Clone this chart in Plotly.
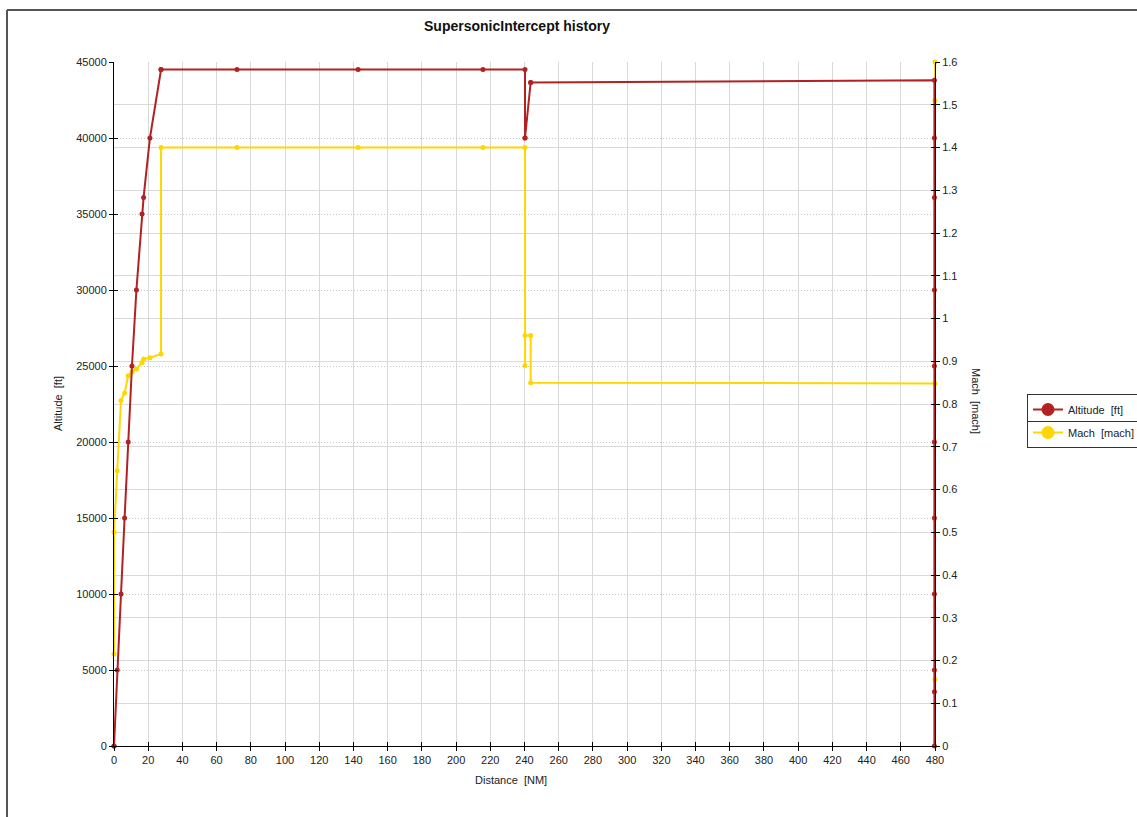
import plotly.graph_objects as go

# Mission history: ground distance [NM], altitude [ft] and Mach number
alt_dist = [0, 0, 1.9, 4.1, 6.2, 8.3, 10.5, 13.1, 16.4, 17.3, 21.0, 27.5, 27.5,
            71.9, 142.7, 215.7, 240.3, 240.3, 240.3, 243.6, 243.6, 480,
            480, 480, 480, 480, 480, 480, 480, 480, 480, 480]
altitude = [0, 0, 5000, 10000, 15000, 20000, 25000, 30000, 35000, 36089, 40000, 44500, 44500,
            44500, 44500, 44500, 44500, 40000, 40000, 43650, 43650, 43800,
            40000, 36089, 30000, 25000, 20000, 15000, 10000, 5000, 3572, 0]

mach_dist = [0, 0, 1.9, 4.1, 6.2, 8.3, 10.5, 13.1, 16.4, 17.3, 21.0, 27.5, 27.5,
             71.9, 142.7, 215.7, 240.3, 240.3, 240.3, 243.6, 243.6, 480,
             480, 480, 480]
mach = [0.215, 0.50, 0.644, 0.808, 0.826, 0.866, 0.875, 0.882, 0.897, 0.905, 0.908, 0.917, 1.40,
        1.40, 1.40, 1.40, 1.40, 0.89, 0.96, 0.96, 0.85, 0.848,
        1.60, 1.51, 0.156]

x_ticks = list(range(0, 481, 20))
alt_ticks = list(range(0, 45001, 5000))
mach_ticks = [round(i * 0.1, 1) for i in range(17)]
mach_labels = [f"{v:g}" for v in mach_ticks]

RED = "#B22222"
GOLD = "#FFD700"
FONT = "Liberation Sans, Arial, sans-serif"

W, H = 1137, 817
L, R, T, B = 114, 935, 62, 746


def px_x(p):
    return (p - L) / (R - L)


def px_y(p):
    return (B - p) / (B - T)


fig = go.Figure()

# Mach trace on the right-hand axis
fig.add_trace(go.Scatter(
    x=mach_dist, y=mach, yaxis="y2", mode="lines+markers",
    line=dict(color=GOLD, width=2), marker=dict(color=GOLD, size=5),
    showlegend=False, cliponaxis=False, name="Mach  [mach]"))

# Altitude trace, drawn on an overlay of the left axis so it sits above the Mach line
fig.add_trace(go.Scatter(
    x=[d - 0.35 if d == 480 else d for d in alt_dist], y=altitude,
    xaxis="x2", yaxis="y3", mode="lines+markers",
    line=dict(color=RED, width=2), marker=dict(color=RED, size=5),
    showlegend=False, cliponaxis=False, name="Altitude  [ft]"))

# Legend entries with large symbols
fig.add_trace(go.Scatter(
    x=[None], y=[None], mode="lines+markers", name="Altitude  [ft]",
    line=dict(color=RED, width=2), marker=dict(color=RED, size=13), legendgroup="a"))
fig.add_trace(go.Scatter(
    x=[None], y=[None], mode="lines+markers", name="Mach  [mach]",
    line=dict(color=GOLD, width=2), marker=dict(color=GOLD, size=13), legendgroup="b"))

# Placeholder carrying the inner half of the right-axis tick marks
fig.add_trace(go.Scatter(x=[None], y=[None], xaxis="x2", yaxis="y4",
                         showlegend=False, hoverinfo="skip"))

tickfont = dict(family=FONT, size=11, color="#222222")
common = dict(showline=True, linecolor="black", linewidth=1, ticks="outside",
              ticklen=4, tickcolor="black", tickwidth=1, zeroline=False,
              tickfont=tickfont)
inner = dict(ticks="inside", ticklen=4, tickcolor="black", showticklabels=False,
             showgrid=False, zeroline=False, showline=False)

fig.update_layout(
    width=W, height=H,
    margin=dict(l=L, r=W - R, t=T, b=H - B, autoexpand=False),
    paper_bgcolor="white", plot_bgcolor="white",
    font=dict(family=FONT, size=11, color="#222222"),
    xaxis=dict(range=[0, 480], tickvals=x_ticks, showgrid=True,
               gridcolor="#d9d9d9", gridwidth=1, **common),
    yaxis=dict(range=[0, 45000], tickvals=alt_ticks, tickformat="d", showgrid=True,
               gridcolor="#c8c8c8", griddash="1px,2px", gridwidth=1, **common),
    yaxis2=dict(range=[0, 1.6], tickvals=mach_ticks, ticktext=mach_labels,
                overlaying="y", side="right", showgrid=True,
                gridcolor="#d9d9d9", gridwidth=1, **common),
    xaxis2=dict(range=[0, 480], tickvals=x_ticks, overlaying="x", anchor="y3", **inner),
    yaxis3=dict(range=[0, 45000], tickvals=alt_ticks, overlaying="y", anchor="x2", **inner),
    yaxis4=dict(range=[0, 1.6], tickvals=mach_ticks, overlaying="y", side="right",
                anchor="x2", **inner),
    legend=dict(x=px_x(1027), y=px_y(394), xanchor="left", yanchor="top",
                bordercolor="#333333", borderwidth=1, bgcolor="rgba(255,255,255,0)",
                font=dict(family=FONT, size=11, color="#222222"),
                traceorder="grouped", tracegroupgap=4, itemwidth=30),
    showlegend=True,
)

ann = dict(xref="paper", yref="paper", showarrow=False, xanchor="center", yanchor="middle")
annotations = [
    dict(text="<b>SupersonicIntercept history</b>", x=px_x(516.5), y=px_y(26),
         font=dict(family=FONT, size=14, color="#111111"), **ann),
    dict(text="Distance  [NM]", x=px_x(511), y=px_y(780),
         font=dict(family=FONT, size=11, color="#222222"), **ann),
    dict(text="Altitude  [ft]", x=px_x(58), y=px_y(404), textangle=-90,
         font=dict(family=FONT, size=11, color="#222222"), **ann),
    dict(text="Mach  [mach]", x=px_x(976), y=px_y(401), textangle=90,
         font=dict(family=FONT, size=11, color="#222222"), **ann),
]
fig.update_layout(annotations=annotations)

# Outer frame (top and left edges)
frame = dict(xref="paper", yref="paper", line=dict(color="#555555", width=2), layer="above")
fig.add_shape(type="line", x0=px_x(7), x1=px_x(1140), y0=px_y(10), y1=px_y(10), **frame)
fig.add_shape(type="line", x0=px_x(7), x1=px_x(7), y0=px_y(10), y1=px_y(820), **frame)

# Divider between the two legend rows
fig.add_shape(type="line", xref="paper", yref="paper", x0=px_x(1028), x1=px_x(1140),
              y0=px_y(421.5), y1=px_y(421.5), line=dict(color="#333333", width=1),
              layer="above")

fig.write_html("out.html")
